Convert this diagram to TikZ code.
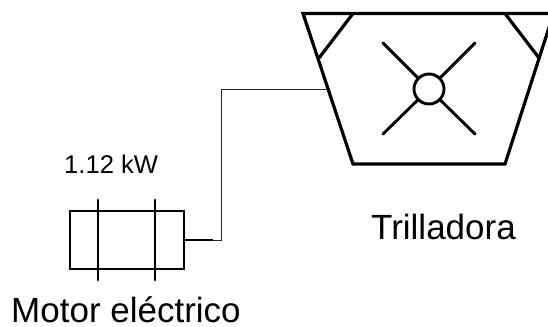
\documentclass[tikz,border=0pt]{standalone}
\usepackage{fontspec}
\setmainfont{Liberation Sans}
\tikzset{
  heavy/.style={draw=black,line width=3.2bp,line join=miter},
  spoke/.style={draw=black,line width=2.9bp,line cap=round},
  wire/.style={draw=black!85,line width=1bp},
  biglabel/.style={inner sep=0pt,anchor=base west,font=\fontsize{35bp}{40bp}\selectfont},
  smalllabel/.style={inner sep=0pt,anchor=base west,font=\fontsize{25.6bp}{30bp}\selectfont}
}
\begin{document}
\begin{tikzpicture}[x=1bp,y=-1bp]
\useasboundingbox (0,0) rectangle (548,326);
\clip (0,0) rectangle (548,326);
\fill[white] (0,0) rectangle (548,326);
% hopper corners
\coordinate (tl) at (303,13.5);
\coordinate (tr) at (553.5,13.5);
\coordinate (bl) at (353,164);
\coordinate (br) at (505,164);
\coordinate (jl) at (319,58);
\coordinate (jr) at (539,58);
\coordinate (il) at (353,13.5);
\coordinate (ir) at (505,13.5);
\coordinate (port) at (328,89);
\coordinate (bend1) at (221.5,89);
\coordinate (bend2) at (221.5,240);
\coordinate (stub) at (213,240);
\draw[heavy] (tl) -- (tr) -- (br) -- (bl) -- cycle;
\draw[heavy] (jl) -- (il);
\draw[heavy] (jr) -- (ir);
% rotor
\node[circle,draw=black,line width=2.9bp,fill=white,minimum size=30bp,inner sep=0pt] (hub) at (429,89) {};
\coordinate (s1) at (383,43);
\coordinate (s2) at (475,43);
\coordinate (s3) at (383,134);
\coordinate (s4) at (475,134);
\draw[spoke] (s1) -- (hub);
\draw[spoke] (s2) -- (hub);
\draw[spoke] (s3) -- (hub);
\draw[spoke] (s4) -- (hub);
% motor
\node[rectangle,draw=black,line width=2.9bp,minimum width=114bp,minimum height=58bp,inner sep=0pt] (motor) at (127,240) {};
\coordinate (a1) at (98,200);
\coordinate (a2) at (98,280);
\coordinate (b1) at (155,200);
\coordinate (b2) at (155,280);
\draw[spoke] (a1) -- (a2);
\draw[spoke] (b1) -- (b2);
\draw[draw=black,line width=2.9bp] (motor.east) -- (stub);
\draw[wire] (stub) -- (bend2) -- (bend1) -- (port);
% labels
\node[smalllabel] (power) at (64,173) {1.12 kW};
\node[biglabel] (tri) at (371,239) {Trilladora};
\node[biglabel] (mot) at (11,322) {Motor eléctrico};
\end{tikzpicture}
\end{document}
